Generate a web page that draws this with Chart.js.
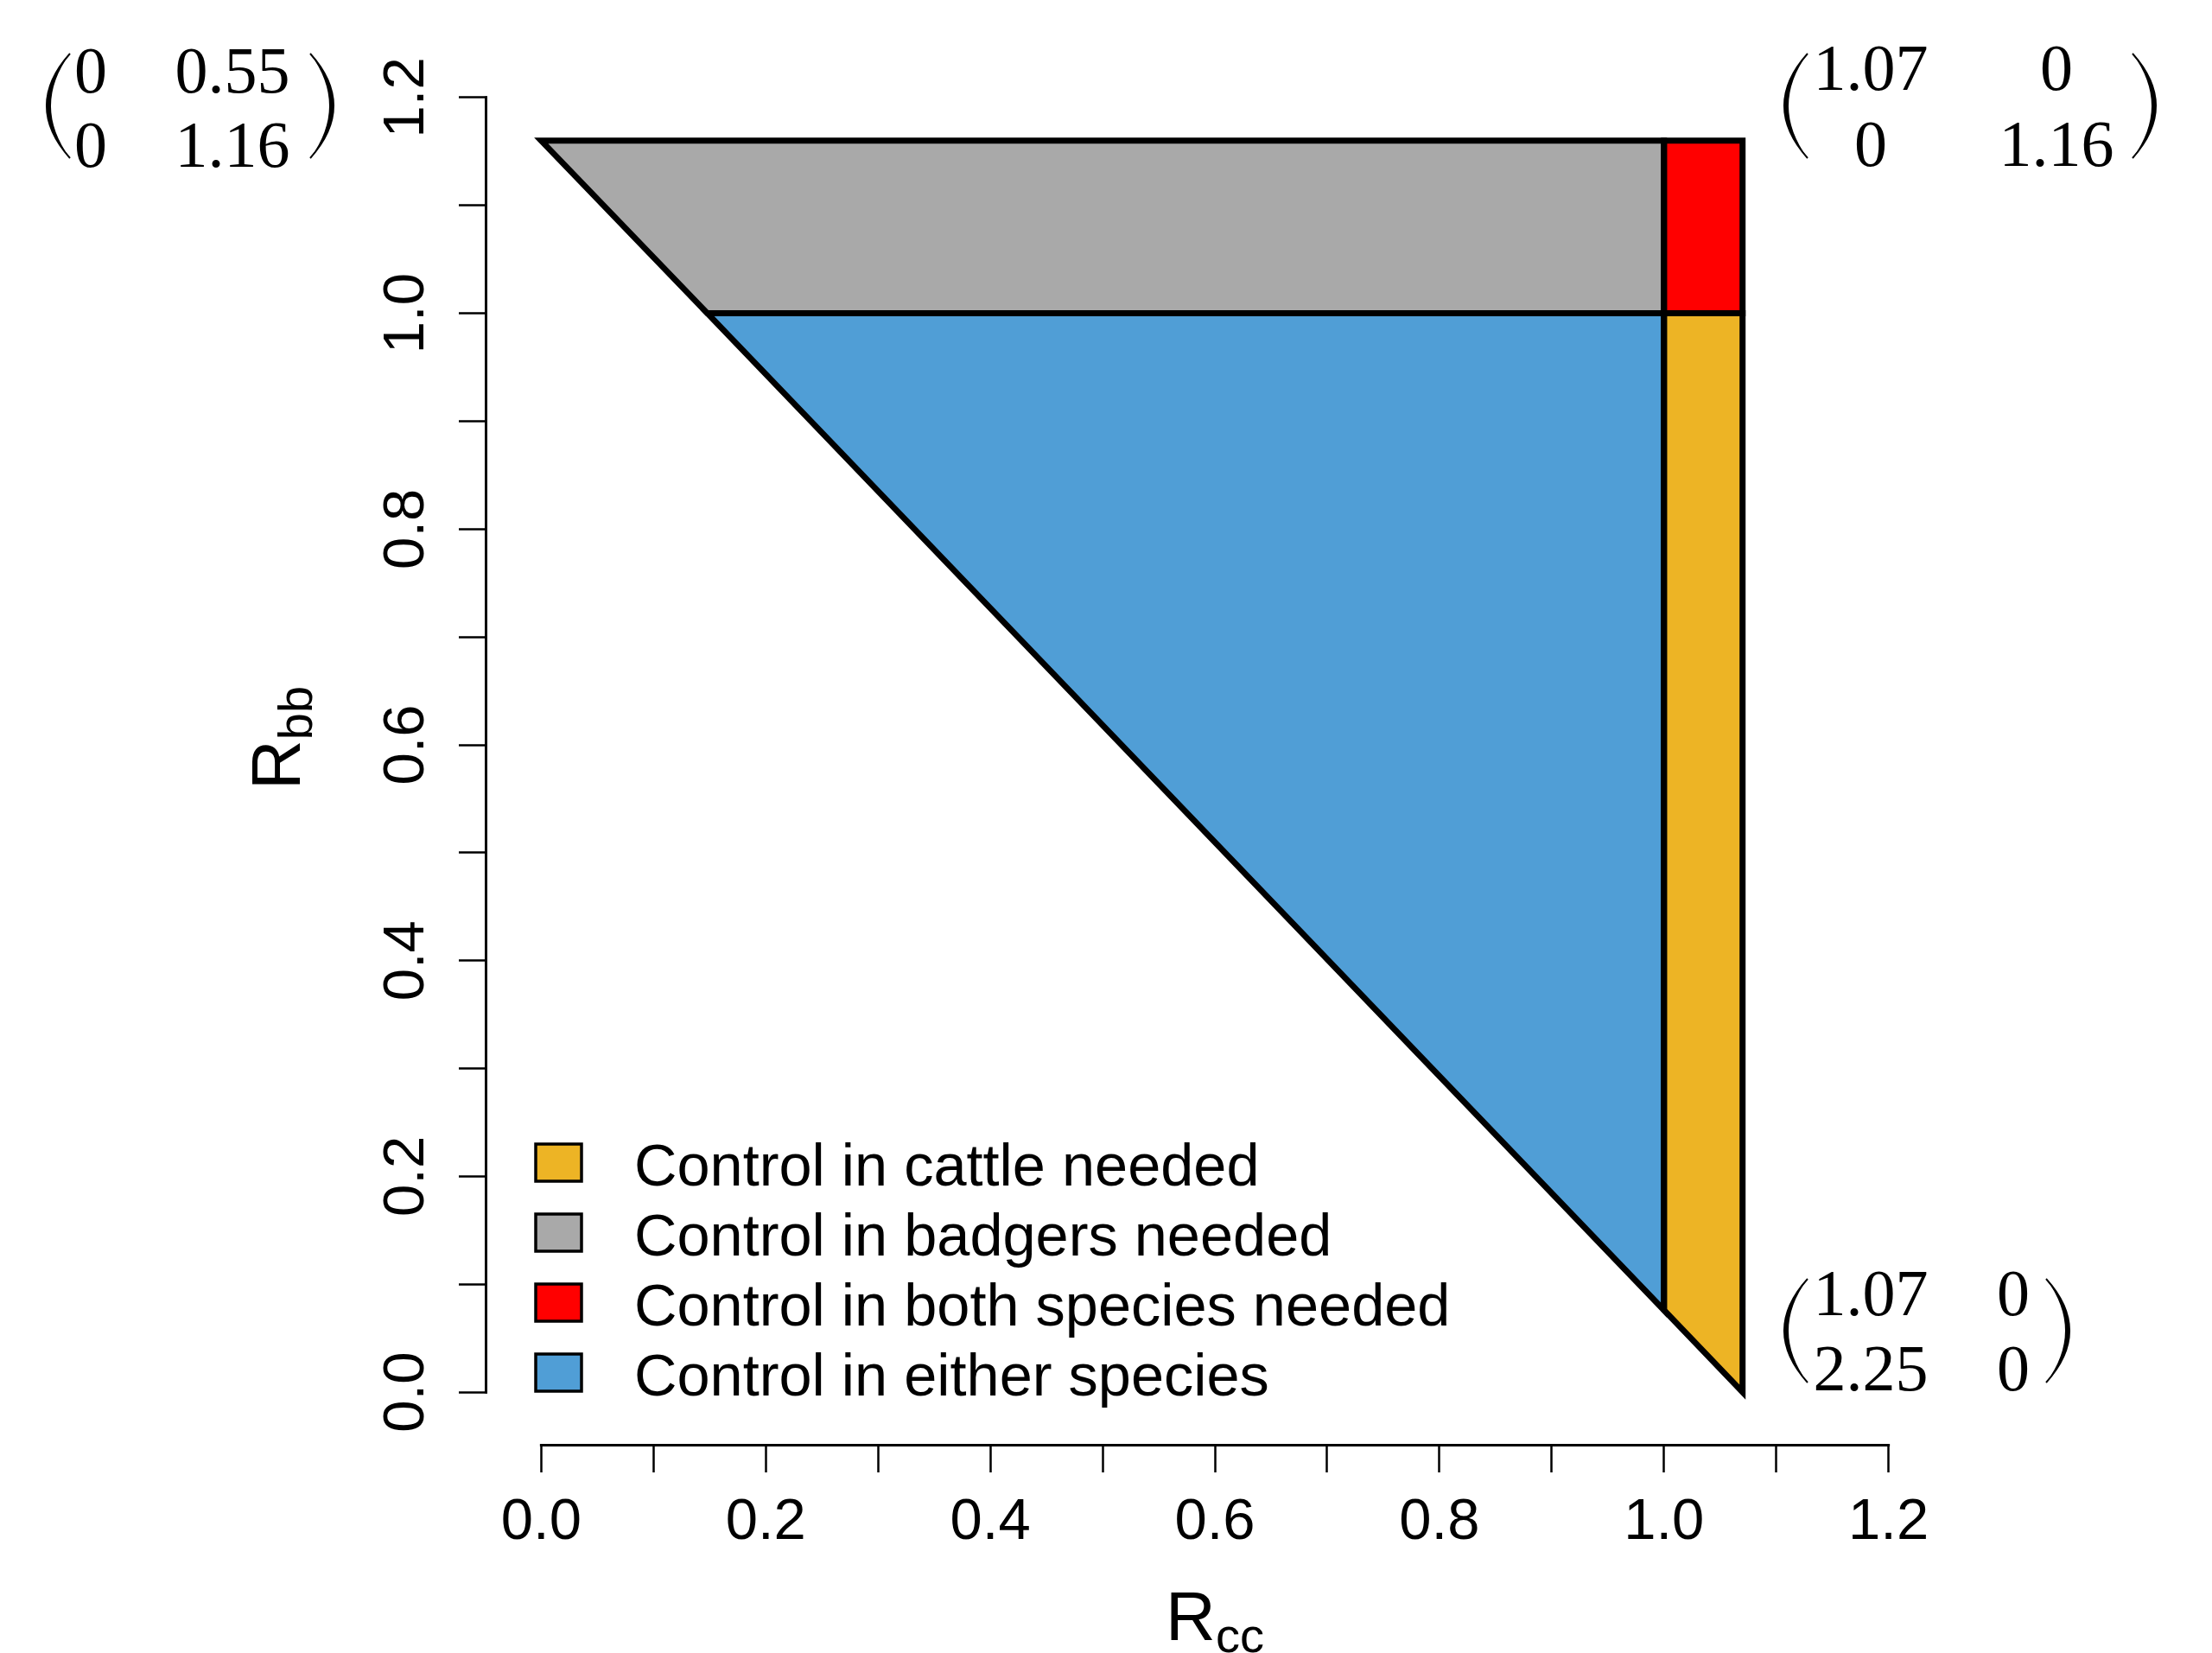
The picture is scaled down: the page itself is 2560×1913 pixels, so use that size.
<!DOCTYPE html>
<html>
<head>
<meta charset="utf-8">
<title>Control regions</title>
<script src="https://cdn.jsdelivr.net/npm/chart.js@4.4.1/dist/chart.umd.min.js"></script>
<style>
  html, body { margin: 0; padding: 0; background: #fff; }
  canvas { display: block; }
</style>
</head>
<body>
<canvas id="chart" width="2560" height="1913"></canvas>
<script>
// ticks every 0.1, labelled every 0.2
const xTicks = [0, 0.1, 0.2, 0.3, 0.4, 0.5, 0.6, 0.7, 0.8, 0.9, 1.0, 1.1, 1.2];
const xTickLabels = ['0.0', '', '0.2', '', '0.4', '', '0.6', '', '0.8', '', '1.0', '', '1.2'];
const yTicks = [0, 0.1, 0.2, 0.3, 0.4, 0.5, 0.6, 0.7, 0.8, 0.9, 1.0, 1.1, 1.2];
const yTickLabels = ['0.0', '', '0.2', '', '0.4', '', '0.6', '', '0.8', '', '1.0', '', '1.2'];

// regions (polygon corners, Rcc / Rbb), legend order
const regionLabels = ['Control in cattle needed', 'Control in badgers needed', 'Control in both species needed', 'Control in either species'];
const regionColors = ['#EDB425', '#A9A9A9', '#FF0000', '#509ED6'];
const cattleX = [1, 1.07, 1.07, 1, 1];
const cattleY = [1, 1, 0, 0.076, 1];
const badgersX = [1, 0.148, 0, 1, 1];
const badgersY = [1, 1, 1.16, 1.16, 1];
const bothX = [1, 1, 1.07, 1.07, 1];
const bothY = [1, 1.16, 1.16, 1, 1];
const eitherX = [1, 0.148, 1, 1];
const eitherY = [1, 1, 0.076, 1];

// matrices written at the corners
const matTopLeft = [['0', '0.55'], ['0', '1.16']];
const matTopRight = [['1.07', '0'], ['0', '1.16']];
const matBottomRight = [['1.07', '0'], ['2.25', '0']];

const SANS = '"Liberation Sans", Arial, sans-serif';
const SERIF = '"Liberation Serif", "Times New Roman", serif';

function toPoints(xs, ys) {
    return xs.map((x, i) => ({ x: x, y: ys[i] }));
}

const regionData = [
    toPoints(cattleX, cattleY),
    toPoints(badgersX, badgersY),
    toPoints(bothX, bothY),
    toPoints(eitherX, eitherY)
];

const datasets = regionData.map((pts, i) => ({
    label: regionLabels[i],
    data: pts,
    showLine: true,
    fill: false,
    backgroundColor: regionColors[i],
    borderColor: '#000',
    borderWidth: 7,
    borderJoinStyle: 'miter',
    pointRadius: 0,
    pointHoverRadius: 0
}));

// fill each polygon through the points the scales have placed
const polygonFill = {
    id: 'polygonFill',
    beforeDatasetsDraw(chart) {
        const ctx = chart.ctx;
        chart.data.datasets.forEach((ds, i) => {
            const pts = chart.getDatasetMeta(i).data;
            if (!pts.length) return;
            ctx.save();
            ctx.beginPath();
            pts.forEach((p, k) => k ? ctx.lineTo(p.x, p.y) : ctx.moveTo(p.x, p.y));
            ctx.closePath();
            ctx.fillStyle = ds.backgroundColor;
            ctx.fill();
            ctx.restore();
        });
    }
};

function drawParen(ctx, tip, belly, top, bottom) {
    // tall thin bracket: tip = x of the ends, belly = x of the middle
    const mid = (top + bottom) / 2;
    const dir = Math.sign(tip - belly);
    const t = 5 * dir;
    ctx.beginPath();
    ctx.moveTo(tip, top);
    ctx.quadraticCurveTo(2 * belly - tip, mid, tip, bottom);
    ctx.quadraticCurveTo(2 * (belly + t) - tip, mid, tip, top);
    ctx.closePath();
    ctx.fill();
    ctx.beginPath();
    ctx.moveTo(tip, top);
    ctx.quadraticCurveTo(2 * belly - tip, mid, tip, bottom);
    ctx.stroke();
}

function drawMatrix(ctx, cells, left, right, top, bottom, colX, rowY) {
    ctx.save();
    ctx.fillStyle = '#000';
    ctx.strokeStyle = '#000';
    ctx.lineWidth = 2;
    drawParen(ctx, left + 27, left, top, bottom);
    drawParen(ctx, right - 27, right, top, bottom);
    ctx.font = '76px ' + SERIF;
    ctx.textAlign = 'center';
    ctx.textBaseline = 'alphabetic';
    cells.forEach((row, r) => row.forEach((txt, c) => ctx.fillText(txt, colX[c], rowY[r])));
    ctx.restore();
}

function drawSubscripted(ctx, main, sub, cx, baseY, rotate) {
    ctx.save();
    ctx.fillStyle = '#000';
    ctx.textAlign = 'left';
    ctx.textBaseline = 'alphabetic';
    ctx.font = '80px ' + SANS;
    const wMain = ctx.measureText(main).width;
    ctx.font = '56px ' + SANS;
    const wSub = ctx.measureText(sub).width;
    if (rotate) {
        ctx.translate(baseY, cx);
        ctx.rotate(-Math.PI / 2);
    } else {
        ctx.translate(cx, baseY);
    }
    const start = -(wMain + wSub) / 2;
    ctx.font = '80px ' + SANS;
    ctx.fillText(main, start, 0);
    ctx.font = '56px ' + SANS;
    ctx.fillText(sub, start + wMain, 14);
    ctx.restore();
}

const overlay = {
    id: 'overlay',
    afterDraw(chart) {
        const ctx = chart.ctx;
        const xs = chart.scales.x;
        const ys = chart.scales.y;

        // axis lines only span the tick range
        ctx.save();
        ctx.strokeStyle = '#000';
        ctx.lineWidth = 3;
        ctx.lineCap = 'square';
        ctx.beginPath();
        ctx.moveTo(xs.getPixelForValue(xTicks[0]), xs.top + 1.5);
        ctx.lineTo(xs.getPixelForValue(xTicks[xTicks.length - 1]), xs.top + 1.5);
        ctx.moveTo(ys.right - 1.5, ys.getPixelForValue(yTicks[0]));
        ctx.lineTo(ys.right - 1.5, ys.getPixelForValue(yTicks[yTicks.length - 1]));
        ctx.stroke();
        ctx.restore();

        // y tick labels, parallel to the axis
        ctx.save();
        ctx.fillStyle = '#000';
        ctx.font = '67px ' + SANS;
        ctx.textAlign = 'center';
        ctx.textBaseline = 'alphabetic';
        yTicks.forEach((v, i) => {
            if (!yTickLabels[i]) return;
            ctx.save();
            ctx.translate(ys.right - 74, ys.getPixelForValue(v));
            ctx.rotate(-Math.PI / 2);
            ctx.fillText(yTickLabels[i], 0, 0);
            ctx.restore();
        });
        ctx.restore();

        // axis titles
        drawSubscripted(ctx, 'R', 'cc', xs.getPixelForValue(0.6), 1898, false);
        drawSubscripted(ctx, 'R', 'bb', ys.getPixelForValue(0.6) - 8, 347, true);

        // legend
        ctx.save();
        chart.data.datasets.forEach((ds, i) => {
            const cy = 1345 + i * 81;
            ctx.fillStyle = ds.backgroundColor;
            ctx.fillRect(620, cy - 21, 53, 43);
            ctx.strokeStyle = '#000';
            ctx.lineWidth = 3.5;
            ctx.strokeRect(620, cy - 21, 53, 43);
            ctx.fillStyle = '#000';
            ctx.font = '68.5px ' + SANS;
            ctx.textAlign = 'left';
            ctx.textBaseline = 'alphabetic';
            ctx.fillText(ds.label, 734, cy + 27);
        });
        ctx.restore();

        // corner matrices
        drawMatrix(ctx, matTopLeft, 54, 386, 62, 183, [105, 269], [107, 193]);
        drawMatrix(ctx, matTopRight, 2065, 2495, 62, 183, [2165, 2380], [104, 192]);
        drawMatrix(ctx, matBottomRight, 2065, 2395, 1480, 1600, [2165, 2330], [1522, 1609]);
    }
};

const tickGrid = {
    display: true,
    drawOnChartArea: false,
    drawTicks: true,
    tickLength: 33,
    tickColor: '#000',
    tickWidth: 2.5
};

new Chart(document.getElementById('chart'), {
    type: 'scatter',
    data: { datasets: datasets },
    options: {
        responsive: false,
        animation: false,
        events: [],
        layout: { padding: { left: 0, top: 53, right: 312, bottom: 0 } },
        plugins: {
            legend: { display: false },
            tooltip: { enabled: false }
        },
        scales: {
            x: {
                type: 'linear',
                position: 'bottom',
                min: -0.048,
                max: 1.248,
                afterBuildTicks: s => { s.ticks = xTicks.map(v => ({ value: v })); },
                afterFit: s => { s.height = 242; },
                grid: tickGrid,
                border: { display: false },
                ticks: {
                    autoSkip: false,
                    maxRotation: 0,
                    minRotation: 0,
                    padding: 18,
                    color: '#000',
                    font: { family: SANS, size: 67 },
                    callback: (val, i) => xTickLabels[i]
                }
            },
            y: {
                type: 'linear',
                position: 'left',
                min: -0.048,
                max: 1.248,
                afterBuildTicks: s => { s.ticks = yTicks.map(v => ({ value: v })); },
                afterFit: s => { s.width = 564; },
                grid: tickGrid,
                border: { display: false },
                ticks: { display: false }
            }
        }
    },
    plugins: [polygonFill, overlay]
});
</script>
</body>
</html>
